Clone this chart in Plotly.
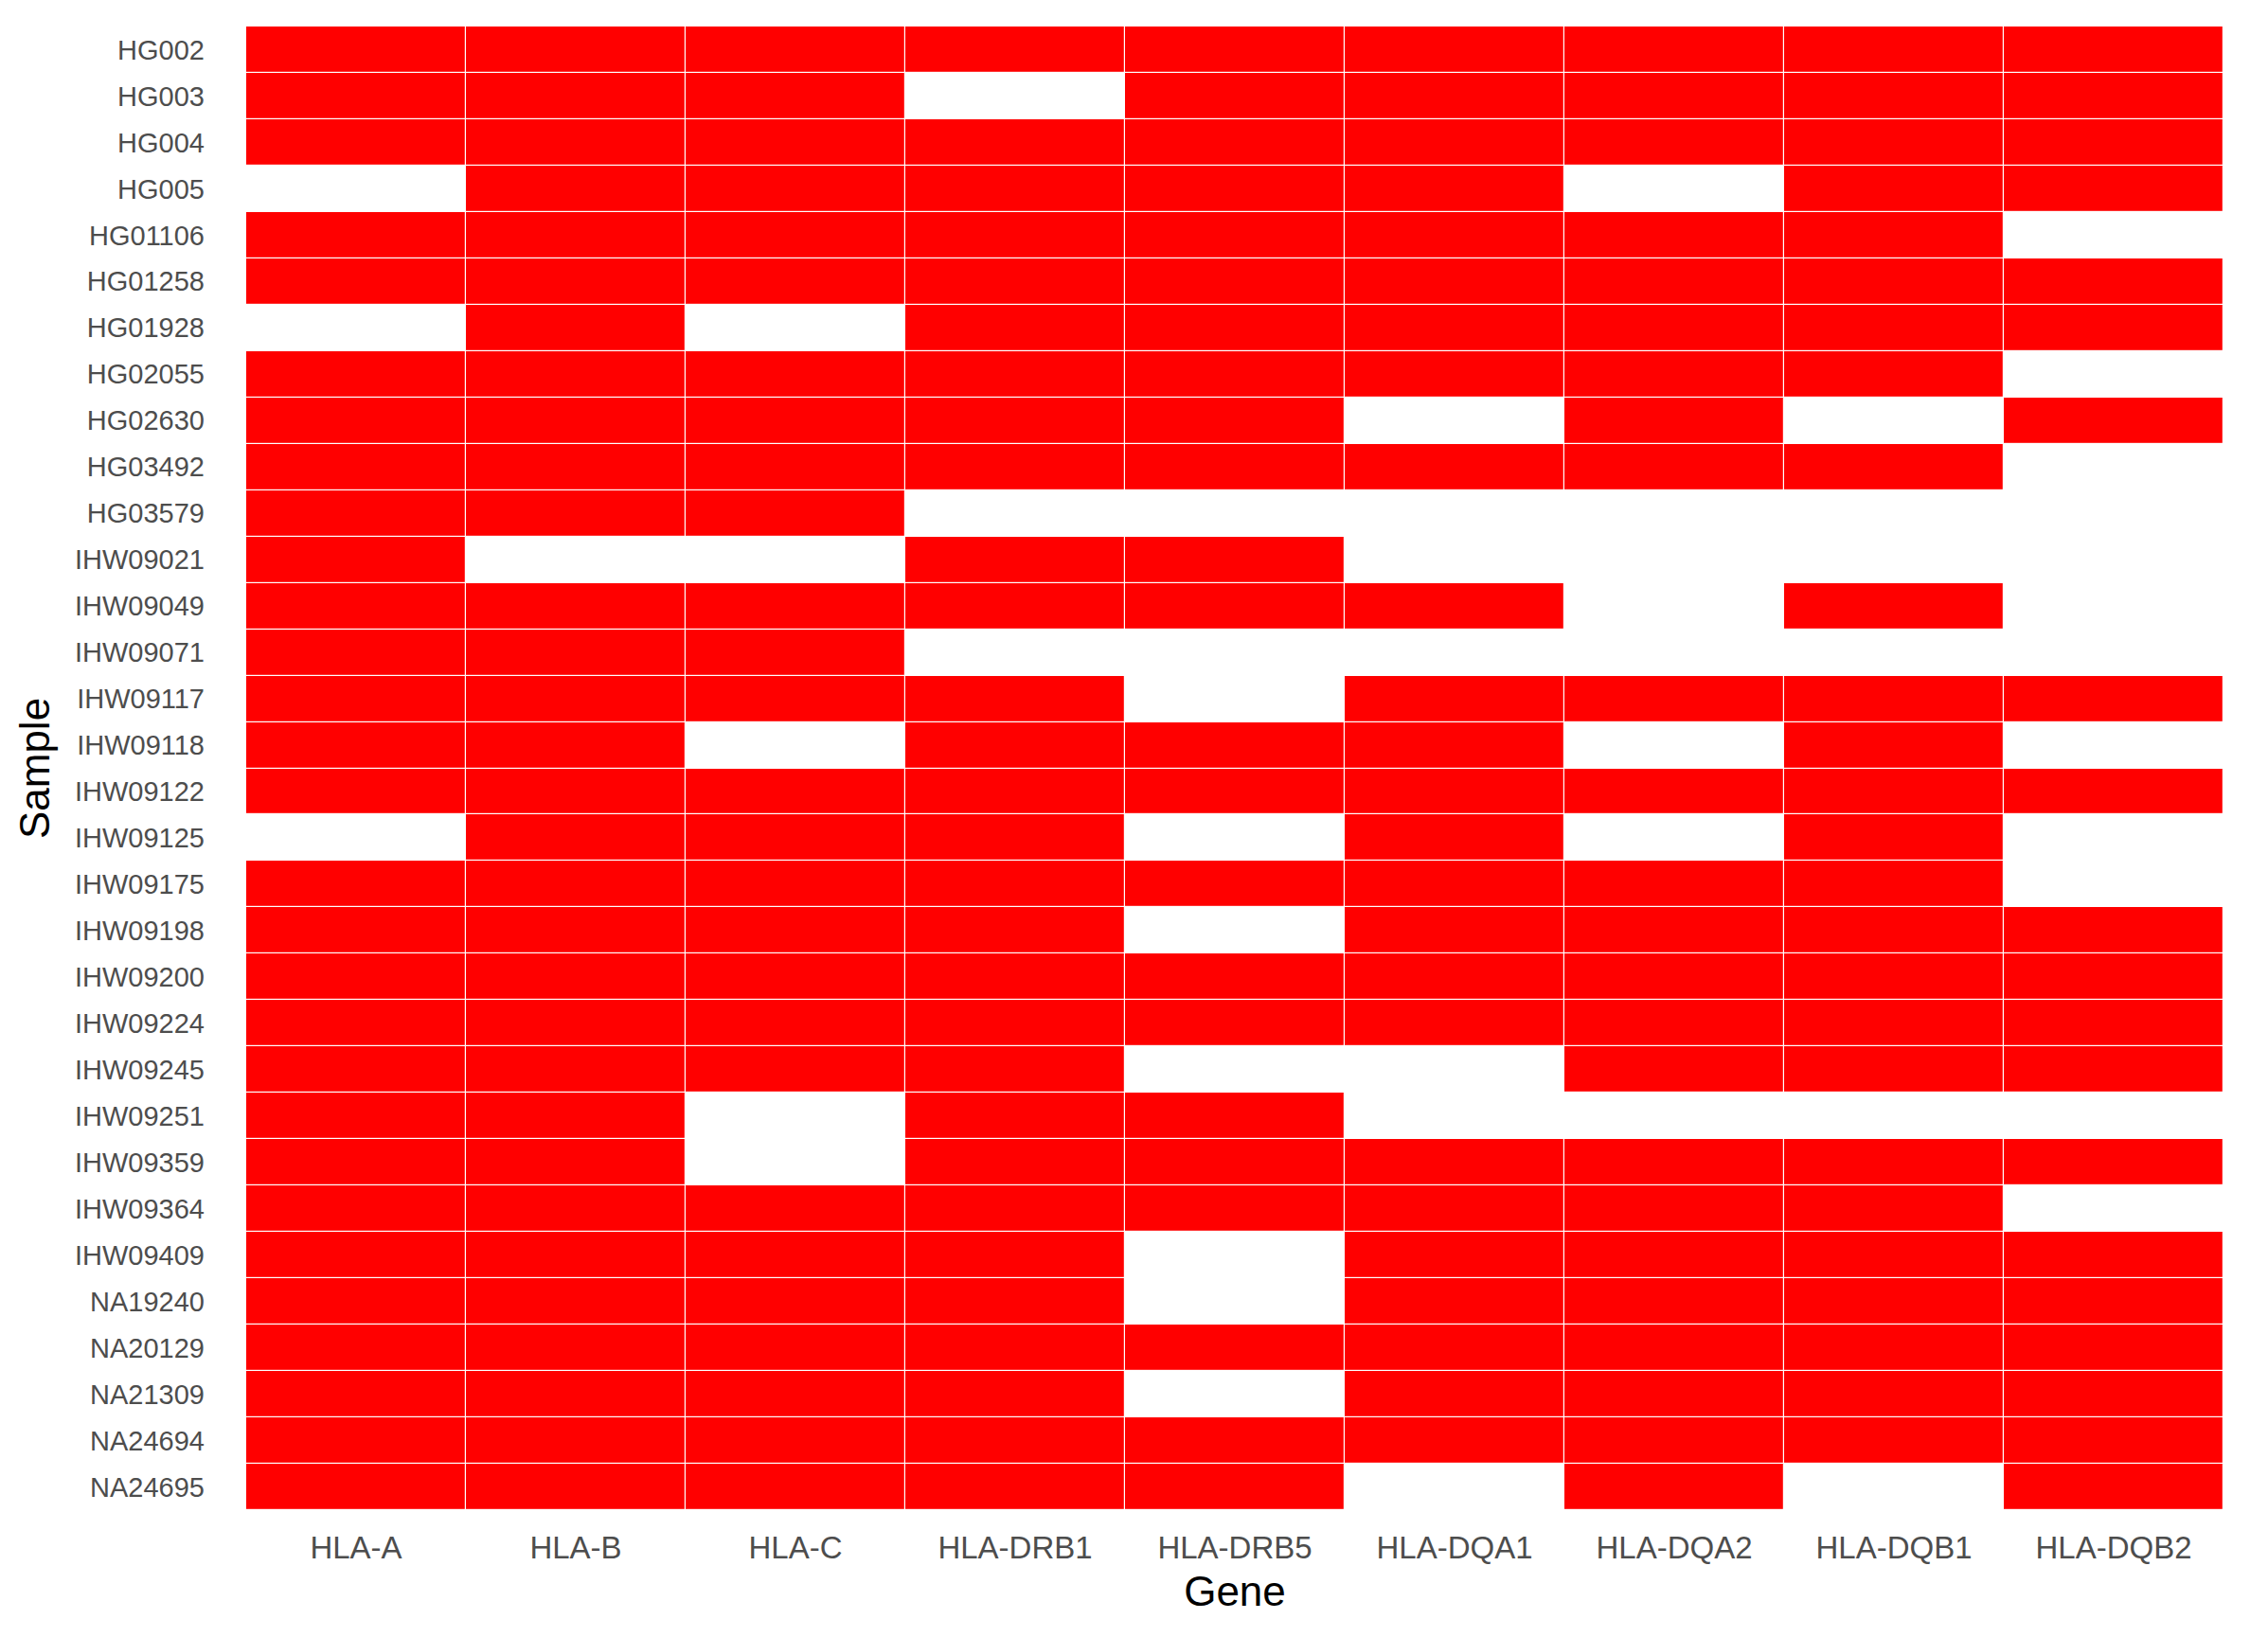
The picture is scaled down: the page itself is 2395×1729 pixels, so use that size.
import plotly.graph_objects as go

genes = ["HLA-A", "HLA-B", "HLA-C", "HLA-DRB1", "HLA-DRB5",
         "HLA-DQA1", "HLA-DQA2", "HLA-DQB1", "HLA-DQB2"]

samples = ["HG002", "HG003", "HG004", "HG005", "HG01106", "HG01258", "HG01928",
           "HG02055", "HG02630", "HG03492", "HG03579", "IHW09021", "IHW09049",
           "IHW09071", "IHW09117", "IHW09118", "IHW09122", "IHW09125", "IHW09175",
           "IHW09198", "IHW09200", "IHW09224", "IHW09245", "IHW09251", "IHW09359",
           "IHW09364", "IHW09409", "NA19240", "NA20129", "NA21309", "NA24694",
           "NA24695"]

# 1 = typed (red tile), 0 = missing (no tile)
presence = [
    [1, 1, 1, 1, 1, 1, 1, 1, 1],  # HG002
    [1, 1, 1, 0, 1, 1, 1, 1, 1],  # HG003
    [1, 1, 1, 1, 1, 1, 1, 1, 1],  # HG004
    [0, 1, 1, 1, 1, 1, 0, 1, 1],  # HG005
    [1, 1, 1, 1, 1, 1, 1, 1, 0],  # HG01106
    [1, 1, 1, 1, 1, 1, 1, 1, 1],  # HG01258
    [0, 1, 0, 1, 1, 1, 1, 1, 1],  # HG01928
    [1, 1, 1, 1, 1, 1, 1, 1, 0],  # HG02055
    [1, 1, 1, 1, 1, 0, 1, 0, 1],  # HG02630
    [1, 1, 1, 1, 1, 1, 1, 1, 0],  # HG03492
    [1, 1, 1, 0, 0, 0, 0, 0, 0],  # HG03579
    [1, 0, 0, 1, 1, 0, 0, 0, 0],  # IHW09021
    [1, 1, 1, 1, 1, 1, 0, 1, 0],  # IHW09049
    [1, 1, 1, 0, 0, 0, 0, 0, 0],  # IHW09071
    [1, 1, 1, 1, 0, 1, 1, 1, 1],  # IHW09117
    [1, 1, 0, 1, 1, 1, 0, 1, 0],  # IHW09118
    [1, 1, 1, 1, 1, 1, 1, 1, 1],  # IHW09122
    [0, 1, 1, 1, 0, 1, 0, 1, 0],  # IHW09125
    [1, 1, 1, 1, 1, 1, 1, 1, 0],  # IHW09175
    [1, 1, 1, 1, 0, 1, 1, 1, 1],  # IHW09198
    [1, 1, 1, 1, 1, 1, 1, 1, 1],  # IHW09200
    [1, 1, 1, 1, 1, 1, 1, 1, 1],  # IHW09224
    [1, 1, 1, 1, 0, 0, 1, 1, 1],  # IHW09245
    [1, 1, 0, 1, 1, 0, 0, 0, 0],  # IHW09251
    [1, 1, 0, 1, 1, 1, 1, 1, 1],  # IHW09359
    [1, 1, 1, 1, 1, 1, 1, 1, 0],  # IHW09364
    [1, 1, 1, 1, 0, 1, 1, 1, 1],  # IHW09409
    [1, 1, 1, 1, 0, 1, 1, 1, 1],  # NA19240
    [1, 1, 1, 1, 1, 1, 1, 1, 1],  # NA20129
    [1, 1, 1, 1, 0, 1, 1, 1, 1],  # NA21309
    [1, 1, 1, 1, 1, 1, 1, 1, 1],  # NA24694
    [1, 1, 1, 1, 1, 0, 1, 0, 1],  # NA24695
]

z = [[1 if v else None for v in row] for row in presence]

FONT = "Liberation Sans, Arial, Helvetica, sans-serif"

fig = go.Figure(go.Heatmap(
    x=genes, y=samples, z=z,
    colorscale=[[0, "#FF0000"], [1, "#FF0000"]],
    zmin=0, zmax=1, showscale=False,
    xgap=1.2, ygap=1.2, hoverongaps=False,
))

fig.update_layout(
    width=2395, height=1729,
    margin=dict(l=252, r=55, t=20, b=142),
    paper_bgcolor="white", plot_bgcolor="white",
    font=dict(family=FONT),
    xaxis=dict(
        showgrid=False, zeroline=False, showline=False, ticks="",
        tickfont=dict(size=33, color="#4D4D4D", family=FONT),
        ticklabelstandoff=17,
        title=dict(text="Gene", font=dict(size=44, color="black", family=FONT), standoff=13),
    ),
    yaxis=dict(
        showgrid=False, zeroline=False, showline=False, ticks="",
        autorange="reversed",
        tickfont=dict(size=29, color="#4D4D4D", family=FONT),
        ticklabelstandoff=43,
        title=dict(text="Sample", font=dict(size=44, color="black", family=FONT), standoff=12),
    ),
)

fig.write_html("out.html")
